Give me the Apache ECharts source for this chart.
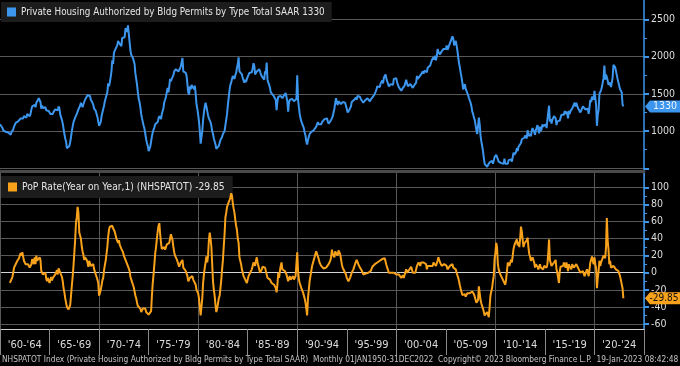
<!DOCTYPE html>
<html><head><meta charset="utf-8">
<script src="https://cdn.jsdelivr.net/npm/echarts@6/dist/echarts.min.js"></script>
<style>html,body{margin:0;padding:0;background:#000}#c{width:680px;height:366px}</style>
</head><body><div id="c"></div>
<script>
// ---- Data (monthly, SAAR thousands) ----
const permitsStartYear = 1960;
const permits1960s = [
1092,1088,1110,1040,1010,1000,995,990,985,975,980,960,
965,950,990,1000,1020,1060,1080,1110,1090,1120,1130,1150,
1140,1170,1190,1180,1170,1200,1190,1210,1180,1230,1240,1250,
1200,1230,1290,1330,1320,1310,1350,1320,1380,1400,1380,1440,
1420,1390,1300,1340,1310,1290,1300,1320,1280,1260,1300,1270,
1250,1230,1240,1210,1230,1260,1250,1290,1270,1300,1280,1330,
1300,1220,1240,1150,1100,1030,960,900,860,770,760,760,
800,850,920,1000,1060,1120,1150,1180,1200,1230,1250,1290,
1270,1340,1380,1400,1320,1360,1390,1420,1440,1420,1480,1460,
1500,1470,1420,1410,1380,1350,1300,1280,1270,1230,1190,1180];
const permits1970s = [
1070,1090,1120,1200,1250,1270,1340,1400,1440,1480,1520,1640,
1600,1650,1720,1800,1950,1900,2050,2080,2100,2060,2150,2210,
2200,2170,2190,2140,2250,2240,2270,2260,2380,2360,2330,2420,
2300,2190,2080,2020,2000,1980,1990,1900,1770,1700,1620,1520,
1430,1390,1320,1230,1170,1120,1070,1030,960,890,840,800,
730,720,790,860,930,980,1020,1050,1090,1110,1090,1120,
1170,1200,1180,1160,1230,1240,1310,1390,1420,1460,1520,1580,
1520,1600,1700,1670,1700,1720,1750,1800,1780,1830,1810,1840,
1800,1780,1840,1870,1850,1980,1800,1790,1810,1780,1740,1730,
1520,1490,1600,1560,1620,1640,1600,1560,1610,1500,1360,1300];
const permits1980s = [
1220,1130,1000,830,820,1000,1150,1250,1330,1380,1330,1310,
1210,1170,1150,1120,1070,1000,960,900,880,820,760,760,
780,800,840,880,870,920,960,970,1000,1080,1150,1230,
1350,1450,1550,1620,1650,1700,1740,1720,1700,1750,1780,1850,
1900,1990,1800,1780,1800,1760,1710,1680,1650,1690,1660,1700,
1720,1700,1780,1800,1770,1790,1840,1910,1880,1760,1780,1800,
1820,1790,1830,1800,1760,1740,1720,1700,1690,1800,1770,1920,
1690,1650,1620,1580,1520,1500,1510,1480,1470,1460,1420,1280,
1400,1460,1440,1450,1470,1460,1440,1460,1480,1500,1510,1490,
1400,1260,1380,1420,1410,1400,1430,1420,1400,1410,1420,1430];
const permits1990s = [
1750,1420,1320,1230,1170,1130,1100,1080,1040,980,940,860,
820,880,920,960,980,990,1000,980,1010,1020,1030,1060,
1080,1120,1090,1100,1110,1090,1120,1130,1140,1160,1150,1180,
1170,1130,1100,1110,1130,1150,1170,1200,1250,1300,1380,1440,
1380,1350,1400,1380,1400,1360,1380,1390,1410,1390,1380,1390,
1300,1250,1240,1280,1300,1330,1390,1400,1410,1420,1440,1450,
1420,1470,1450,1470,1460,1430,1440,1410,1380,1400,1410,1420,
1400,1440,1420,1450,1400,1410,1440,1430,1460,1480,1490,1530,
1560,1600,1590,1610,1590,1640,1650,1680,1640,1720,1740,1760,
1700,1720,1680,1600,1620,1630,1650,1640,1620,1700,1690,1720];
const permits2000s = [
1710,1650,1620,1590,1580,1570,1540,1560,1580,1590,1610,1650,
1690,1640,1600,1610,1620,1630,1610,1620,1580,1590,1620,1620,
1650,1740,1700,1720,1730,1710,1760,1740,1800,1770,1810,1830,
1810,1790,1850,1830,1860,1880,1900,1950,1940,1990,1960,2010,
1950,2000,2100,2060,2080,2030,2040,2070,2050,2100,2080,2120,
2100,2150,2090,2120,2140,2180,2200,2180,2270,2240,2150,2160,
2210,2150,2080,1990,1910,1850,1780,1720,1650,1560,1580,1630,
1570,1540,1530,1480,1440,1410,1380,1330,1260,1230,1180,1150,
1080,1010,960,980,1180,1090,940,860,800,730,640,560,
540,550,520,510,540,580,580,580,600,560,600,650];
const permits2010s = [
650,680,690,620,590,600,570,570,570,550,560,630,
560,540,580,560,610,630,600,620,590,650,710,680,
700,720,770,730,790,770,810,840,890,870,900,910,
940,950,900,1010,990,930,960,930,1000,1040,1050,990,
950,1010,990,1080,1020,970,1060,1000,1030,1090,1060,1060,
1060,1090,1040,1150,1250,1340,1130,1160,1100,1150,1160,1200,
1180,1170,1080,1130,1140,1150,1140,1150,1220,1200,1200,1220,
1270,1230,1260,1230,1170,1270,1230,1270,1250,1300,1300,1300,
1380,1330,1380,1370,1310,1290,1300,1250,1270,1270,1330,1320,
1320,1290,1290,1300,1300,1230,1320,1420,1390,1460,1480,1420];
const permits2020s = [
1540,1450,1350,1070,1220,1280,1500,1510,1550,1590,1650,1710,
1880,1690,1760,1750,1680,1620,1630,1650,1590,1650,1720,1890,
1900,1860,1880,1840,1700,1690,1680,1560,1580,1520,1360,1330];

// Year-on-year % change, monthly from Jan 1961
const yoyStartYear = 1961;
const yoy1960s = [
-12,-13,-10,-5,0,6,8,10,11,14,15,17,
18,23,20,24,25,14,12,10,8,12,10,8,
6,4,10,16,14,10,18,10,20,14,12,16,
18,15,2,0,-2,-1,-4,0,-7,-10,-6,-8,
-12,-11,-5,-9,-6,-4,-4,-2,0,3,-2,5,
4,0,1,-5,-10,-18,-23,-30,-32,-40,-40,-43,
-42,-38,-27,-15,-5,8,23,38,58,65,77,70,
47,45,40,31,25,21,15,18,20,15,12,7,
14,12,8,6,8,10,4,2,-2,-5,-8,-12];
const yoy1970s = [
-27,-24,-20,-15,-9,-6,3,9,14,22,30,42,
50,54,54,56,55,52,53,48,44,40,42,35,
38,33,31,28,27,24,20,18,15,14,10,9,
5,2,-5,-8,-10,-14,-17,-22,-27,-30,-35,-39,
-38,-40,-42,-46,-44,-42,-43,-41,-42,-46,-48,-47,
-49,-48,-50,-45,-27,-12,-2,10,23,30,40,48,
55,58,45,35,28,27,29,30,27,28,33,34,
32,35,40,45,47,38,30,24,20,18,16,14,
10,7,9,12,10,15,6,4,5,2,0,-4,
-10,-8,-6,-8,-6,-4,-8,-10,-8,-14,-20,-22];
const yoy1980s = [
-24,-30,-40,-50,-48,-30,-12,-2,6,12,19,12,
20,38,47,40,31,10,-10,-20,-27,-38,-46,-42,
-36,-30,-27,-18,-8,4,15,31,45,65,70,77,
80,82,85,88,93,90,81,75,70,62,55,50,
40,35,18,14,10,4,0,-4,-3,-8,-10,-12,
-8,-4,-2,0,2,4,8,12,10,8,14,18,
12,8,4,0,-2,4,7,5,8,6,4,7,
-6,-8,-4,-8,-10,-12,-10,-12,-14,-16,-18,-23,
-14,0,-6,2,8,12,4,6,4,2,4,-2,
-6,-10,-8,-4,-8,-8,-6,-4,-8,-6,-4,-4];
const yoy1990s = [
24,2,-8,-12,-15,-18,-20,-23,-25,-30,-35,-42,
-50,-30,-20,-10,-4,2,8,10,15,18,22,25,
27,24,16,12,10,8,10,8,5,4,4,6,
8,4,10,10,14,18,27,22,20,18,25,24,
24,20,26,27,22,16,10,6,4,2,0,-2,
-6,-8,-10,-8,-6,-4,0,2,4,6,10,12,
15,13,10,8,6,4,3,1,-2,-2,0,-1,
-2,-1,0,-1,0,2,4,7,6,8,10,10,
11,12,12,10,14,12,14,16,14,18,17,16,
9,6,4,0,2,0,0,-2,0,0,-2,-2];
const yoy2000s = [
-2,-4,-4,-2,-4,-4,-6,-4,-3,-6,-8,-6,
4,0,0,2,4,6,7,6,0,0,2,0,
-2,8,10,12,10,8,12,13,14,12,10,12,
10,4,8,7,6,8,8,10,8,12,10,12,
8,10,14,18,16,12,10,8,10,8,10,10,
10,8,4,4,6,8,8,6,10,6,4,4,
4,0,-2,-6,-10,-15,-19,-21,-26,-28,-27,-25,
-28,-26,-24,-23,-24,-24,-25,-22,-22,-22,-25,-28,
-30,-35,-36,-32,-16,-24,-32,-36,-38,-42,-46,-50,
-50,-48,-46,-48,-52,-40,-27,-22,-18,-10,-4,16];
const yoy2010s = [
23,35,30,10,4,2,-2,-4,-6,-8,-10,-12,
-14,-8,2,12,10,8,12,15,12,20,28,32,
35,34,39,32,36,30,40,54,48,39,30,34,
33,35,38,41,30,22,19,14,16,18,18,12,
6,10,10,7,4,6,10,6,4,6,4,8,
8,7,6,10,22,39,15,14,8,7,10,12,
10,15,4,0,-2,-12,2,7,8,6,8,12,
10,6,12,8,2,10,7,8,4,10,8,6,
8,7,10,12,10,4,5,0,2,-2,2,2,
-4,-2,-6,4,0,-4,4,12,10,19,14,10];
const yoy2020s = [
18,10,5,-18,-6,2,14,8,12,12,14,20,
22,17,30,64,38,27,10,14,6,4,4,8,
6,8,4,2,4,2,0,-4,-2,-6,-18,-29.85];

const periodLabels = ["'60-'64","'65-'69","'70-'74","'75-'79","'80-'84","'85-'89","'90-'94","'95-'99","'00-'04","'05-'09","'10-'14","'15-'19","'20-'24"];
const permitsName = 'Private Housing Authorized by Bldg Permits by Type Total SAAR';
const yoyName = 'PoP Rate(Year on Year,1) (NHSPATOT)';
const footerText = 'NHSPATOT Index (Private Housing Authorized by Bldg Permits by Type Total SAAR)  Monthly 01JAN1950-31DEC2022  Copyright\u00A9 2023 Bloomberg Finance L.P.  19-Jan-2023 08:42:48';

// ---- Build ----
const permits = [].concat(permits1960s, permits1970s, permits1980s, permits1990s, permits2000s, permits2010s, permits2020s);
const yoy = [].concat(yoy1960s, yoy1970s, yoy1980s, yoy1990s, yoy2000s, yoy2010s, yoy2020s);
const permitsPts = permits.map((v, i) => [permitsStartYear + i / 12, v]);
const yoyPts = yoy.map((v, i) => [yoyStartYear + i / 12, v]);
const lastPermit = permits[permits.length - 1];
const lastYoy = yoy[yoy.length - 1];

const FONT = "'DejaVu Sans Condensed','Liberation Sans Narrow','Arial Narrow','Liberation Sans',sans-serif";
const BLUE = '#3d96ee', ORANGE = '#f8a21c', GRID = '#585858', LBL = '#dcdcdc';
const X0 = 1960, X1 = 2025;
const L = -2, R = 36;
const arrow = 'path://M0,6 L6,0 L44,0 L44,12 L6,12 Z';
const plain = v => String(v);

const chart = echarts.init(document.getElementById('c'), null, {renderer: 'canvas'});
chart.setOption({
  backgroundColor: '#000',
  animation: false,
  textStyle: {fontFamily: FONT},
  grid: [
    {left: L, right: R, top: 19.3, height: 149},        // top data
    {left: L, right: R, top: 187.3, height: 136.7},     // bottom data
    {left: L, right: R, top: 0, height: 171},           // top frame
    {left: L, right: R, top: 172.5, height: 156.5}      // bottom frame
  ],
  legend: [
    {data: [permitsName], left: 1, top: 2, icon: 'rect', itemWidth: 9, itemHeight: 9,
     backgroundColor: '#1c1c1c', padding: [5, 7, 5, 6], itemGap: 4,
     textStyle: {color: '#e4e4e4', fontSize: 9.8, fontFamily: FONT},
     formatter: n => n + ' ' + lastPermit, selectedMode: false},
    {data: [yoyName], left: 1, top: 176, icon: 'rect', itemWidth: 9, itemHeight: 9,
     backgroundColor: '#1c1c1c', padding: [6, 8, 6, 7], itemGap: 4,
     textStyle: {color: '#e4e4e4', fontSize: 10.2, fontFamily: FONT},
     formatter: n => n + ' ' + lastYoy, selectedMode: false}
  ],
  xAxis: [
    {gridIndex: 0, type: 'value', min: X0, max: X1, show: false},
    {gridIndex: 1, type: 'value', min: X0, max: X1, show: false},
    {gridIndex: 2, type: 'value', min: X0, max: X1, axisLine: {show: true, lineStyle: {color: '#4a4a4a', width: 3}},
     axisTick: {show: false}, axisLabel: {show: false}, splitLine: {show: false}},
    {gridIndex: 3, type: 'value', min: X0, max: X1, interval: 10,
     axisLine: {show: true, onZero: false, lineStyle: {color: '#cfcfcf', width: 1}},
     axisTick: {show: false}, axisLabel: {show: false},
     splitLine: {show: true, lineStyle: {color: GRID, width: 1}}},
    {gridIndex: 3, type: 'category', data: periodLabels, boundaryGap: true, position: 'bottom',
     axisLine: {show: false}, axisTick: {show: true, length: 26, interval: 0, lineStyle: {color: '#8a8a8a'}},
     axisLabel: {color: LBL, fontSize: 11, margin: 11, interval: 0}, splitLine: {show: false}}
  ],
  yAxis: [
    {gridIndex: 0, type: 'value', position: 'right', min: 500, max: 2500, interval: 500,
     axisLine: {show: false}, axisTick: {show: true, length: 5, lineStyle: {color: BLUE, width: 2}},
     minorTick: {show: true, splitNumber: 2, length: 3, lineStyle: {color: BLUE}},
     axisLabel: {color: LBL, fontSize: 10.5, margin: 7, showMinLabel: false, formatter: plain},
     splitLine: {show: true, lineStyle: {color: GRID, width: 1}}},
    {gridIndex: 1, type: 'value', position: 'right', min: -60, max: 100, interval: 20,
     axisLine: {show: false}, axisTick: {show: true, length: 5, lineStyle: {color: BLUE, width: 2}},
     minorTick: {show: true, splitNumber: 2, length: 3, lineStyle: {color: BLUE}},
     axisLabel: {color: LBL, fontSize: 10.5, margin: 7, formatter: plain},
     splitLine: {show: true, lineStyle: {width: 1, color: [GRID, GRID, GRID, '#d4d4d4', GRID, GRID, GRID, GRID, GRID]}}},
    {gridIndex: 2, type: 'value', position: 'right', min: 0, max: 1,
     axisLine: {show: true, lineStyle: {color: BLUE, width: 1.5}}, axisTick: {show: false}, axisLabel: {show: false}, splitLine: {show: false}},
    {gridIndex: 3, type: 'value', position: 'right', min: 0, max: 1,
     axisLine: {show: true, lineStyle: {color: BLUE, width: 1.5}}, axisTick: {show: false}, axisLabel: {show: false}, splitLine: {show: false}}
  ],
  series: [
    {name: permitsName, type: 'line', xAxisIndex: 0, yAxisIndex: 0, data: permitsPts,
     showSymbol: false, color: BLUE, lineStyle: {color: BLUE, width: 2}, z: 5,
     markPoint: {symbol: arrow, symbolSize: [36, 12], symbolOffset: [19, 0], symbolKeepAspect: false,
       itemStyle: {color: BLUE}, label: {show: true, color: '#eef4ff', fontSize: 10.5, offset: [2, 0],
       formatter: () => String(lastPermit)}, data: [{coord: [X1, lastPermit]}]}},
    {name: yoyName, type: 'line', xAxisIndex: 1, yAxisIndex: 1, data: yoyPts,
     showSymbol: false, color: ORANGE, lineStyle: {color: ORANGE, width: 2}, z: 5,
     markPoint: {symbol: arrow, symbolSize: [36, 12], symbolOffset: [19, 0], symbolKeepAspect: false,
       itemStyle: {color: ORANGE}, label: {show: true, color: '#111', fontSize: 10, offset: [1, 0],
       formatter: () => String(lastYoy)}, data: [{coord: [X1, lastYoy]}]}}
  ],
  graphic: [
    {type: 'text', left: 2, top: 356, style: {text: footerText, fill: '#c4c4c4', fontSize: 8.3, fontFamily: FONT}}
  ]
});
</script>
</body></html>
